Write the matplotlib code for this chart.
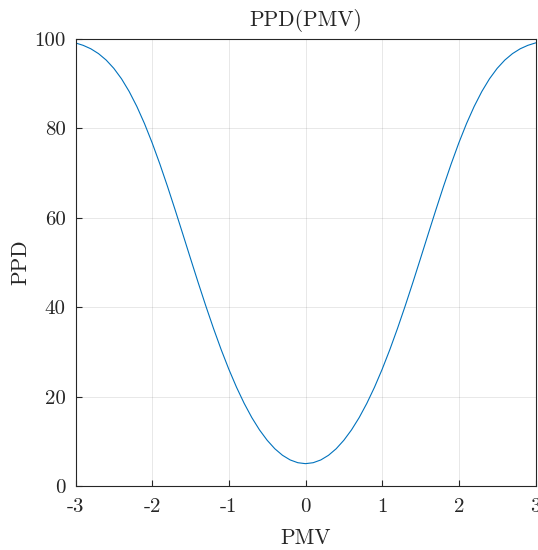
import matplotlib
matplotlib.use('Agg')
import matplotlib.pyplot as plt

# PMV values and PPD
pmv = [-3.0, -2.9, -2.8, -2.7, -2.6, -2.5, -2.4, -2.3, -2.2, -2.1,
       -2.0, -1.9, -1.8, -1.7, -1.6, -1.5, -1.4, -1.3, -1.2, -1.1,
       -1.0, -0.9, -0.8, -0.7, -0.6, -0.5, -0.4, -0.3, -0.2, -0.1,
       0.0,
       0.1, 0.2, 0.3, 0.4, 0.5, 0.6, 0.7, 0.8, 0.9, 1.0,
       1.1, 1.2, 1.3, 1.4, 1.5, 1.6, 1.7, 1.8, 1.9, 2.0,
       2.1, 2.2, 2.3, 2.4, 2.5, 2.6, 2.7, 2.8, 2.9, 3.0]
ppd = [99.12, 98.58, 97.81, 96.73, 95.29, 93.43, 91.10, 88.26, 84.91, 81.07,
       76.76, 72.05, 67.02, 61.75, 56.35, 50.90, 45.51, 40.27, 35.25, 30.51,
       26.12, 22.10, 18.49, 15.30, 12.55, 10.23, 8.33, 6.87, 5.83, 5.21,
       5.00,
       5.21, 5.83, 6.87, 8.33, 10.23, 12.55, 15.30, 18.49, 22.10, 26.12,
       30.51, 35.25, 40.27, 45.51, 50.90, 56.35, 61.75, 67.02, 72.05, 76.76,
       81.07, 84.91, 88.26, 91.10, 93.43, 95.29, 96.73, 97.81, 98.58, 99.12]

xticks = [-3, -2, -1, 0, 1, 2, 3]
yticks = [0, 20, 40, 60, 80, 100]

plt.rcParams['font.family'] = 'serif'
plt.rcParams['font.serif'] = ['cmr10', 'DejaVu Serif']
plt.rcParams['mathtext.fontset'] = 'cm'

txt = '#262626'
fig = plt.figure(figsize=(5.38, 5.50), dpi=100)
ax = fig.add_axes([75.5 / 538, 1 - 486 / 550, 460 / 538, 447 / 550])

ax.plot(pmv, ppd, color='#0072BD', linewidth=0.8)
ax.set_xlim(-3, 3)
ax.set_ylim(0, 100)

ax.set_xticks(xticks)
ax.set_xticklabels([str(t) for t in xticks])
ax.set_yticks(yticks)
ax.set_yticklabels([str(t) for t in yticks])

ax.grid(True, color='#262626', alpha=0.12, linewidth=0.6)
ax.set_axisbelow(True)
for s in ax.spines.values():
    s.set_color(txt)
    s.set_linewidth(0.8)
ax.tick_params(direction='in', length=4, width=0.8, colors=txt,
               labelsize=15, top=False, right=False)
ax.tick_params(axis='x', pad=9)
ax.tick_params(axis='y', pad=7)

ax.set_xlabel('PMV', fontsize=15.5, color=txt, labelpad=9)
ax.set_ylabel('PPD', fontsize=15.5, color=txt, labelpad=3)
ax.set_title('PPD(PMV)', fontsize=15.5, color=txt, pad=9)

fig.savefig('out.png', dpi=100)
